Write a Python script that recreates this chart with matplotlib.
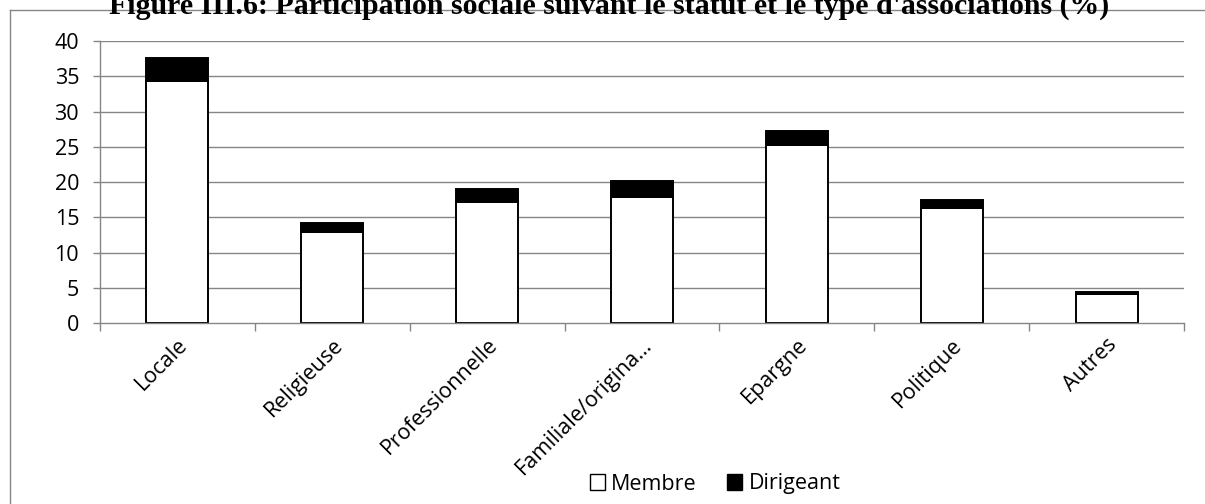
import matplotlib
matplotlib.use("Agg")
import matplotlib.pyplot as plt
from matplotlib.lines import Line2D
from matplotlib.patches import Patch
import numpy as np

categories = ["Locale", "Religieuse", "Professionnelle", "Familiale/origina…",
              "Epargne", "Politique", "Autres"]
membre = [34.4, 13.0, 17.2, 17.9, 25.3, 16.3, 4.15]
dirigeant = [3.2, 1.25, 1.85, 2.2, 1.95, 1.15, 0.35]
yticks = [0, 5, 10, 15, 20, 25, 30, 35, 40]
title = "Figure III.6: Participation sociale suivant le statut et le type d'associations (%)"

W, H = 1205, 504
fig = plt.figure(figsize=(W / 100, H / 100), dpi=100)
fig.patch.set_facecolor("white")

ax = fig.add_axes([100 / W, 1 - 323.3 / H, (1184 - 100) / W, (323.3 - 41) / H])
x = np.arange(len(categories))
grid_c = "#868686"
fs = 15.5

for yv in yticks[1:]:
    ax.axhline(yv, color=grid_c, lw=1.0, zorder=0)

ax.bar(x, membre, width=0.4, color="white", edgecolor="black", linewidth=1.4,
       zorder=2, label="Membre")
ax.bar(x, dirigeant, bottom=membre, width=0.4, color="black", edgecolor="black",
       linewidth=1.4, zorder=2, label="Dirigeant")

ax.set_xlim(-0.5, len(categories) - 0.5)
ax.set_ylim(0, 40)
ax.set_yticks(yticks)
ax.set_yticklabels([str(v) for v in yticks], fontsize=fs, family="Open Sans")
ax.tick_params(axis="y", length=5, width=1.0, color=grid_c, pad=10)

ax.set_xticks(x)
ax.set_xticklabels(categories, rotation=45, ha="right", va="top",
                   rotation_mode="anchor", fontsize=fs, family="Open Sans")
ax.tick_params(axis="x", which="major", length=0, pad=8)
ax.set_xticks(np.arange(-0.5, len(categories), 1.0), minor=True)
ax.tick_params(axis="x", which="minor", length=6, width=1.0, color=grid_c)

for s in ["top", "right"]:
    ax.spines[s].set_visible(False)
for s in ["left", "bottom"]:
    ax.spines[s].set_color(grid_c)
    ax.spines[s].set_linewidth(1.0)

# outer frame
fig.add_artist(Line2D([10 / W, 10 / W], [0, 1 - 10 / H], transform=fig.transFigure,
                      color=grid_c, lw=1.0))
fig.add_artist(Line2D([10 / W, 1], [1 - 10 / H, 1 - 10 / H], transform=fig.transFigure,
                      color=grid_c, lw=1.0))

fig.text(609 / W, 1 - 14 / H, title, ha="center", va="baseline",
         fontsize=21.5, fontweight="bold", family="Liberation Serif")

handles = [Patch(facecolor="white", edgecolor="black", linewidth=1.0, label="Membre"),
           Patch(facecolor="black", edgecolor="black", linewidth=1.0, label="Dirigeant")]
fig.legend(handles=handles, loc="center", bbox_to_anchor=(715 / W, 1 - 484 / H),
           ncol=2, frameon=False, prop={"family": "Open Sans", "size": fs},
           handlelength=0.7, handleheight=0.7, handletextpad=0.3, columnspacing=1.4,
           borderpad=0.2)

fig.savefig("out.png", dpi=100, facecolor="white")
